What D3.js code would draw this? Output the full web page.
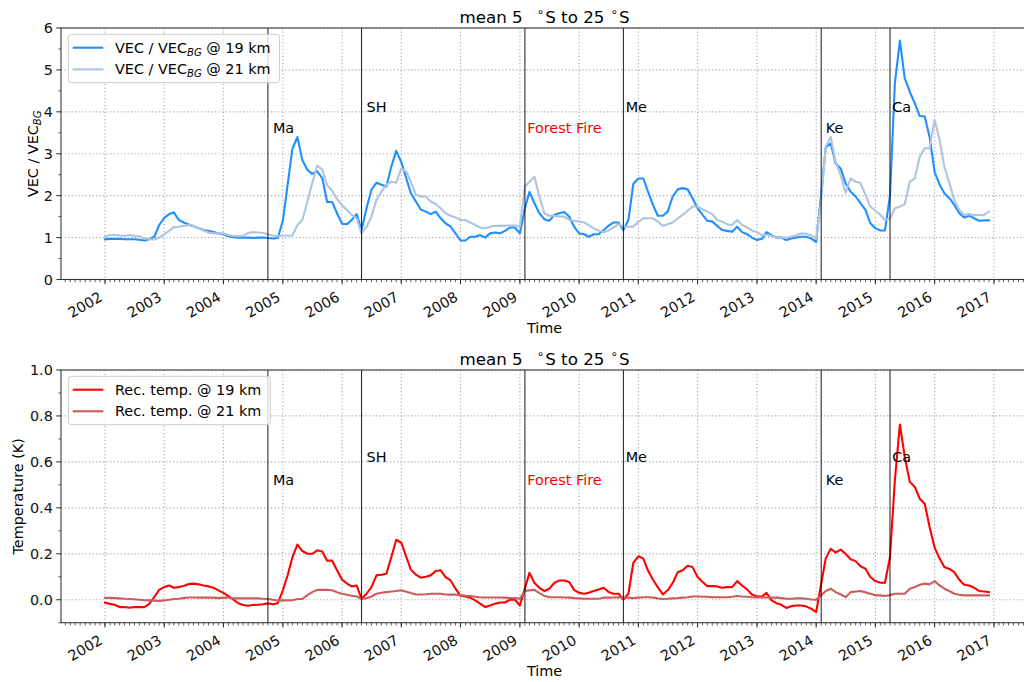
<!DOCTYPE html>
<html>
<head>
<meta charset="utf-8">
<script src="https://cdn.jsdelivr.net/npm/d3@7"></script>
<style>
  body { margin: 0; background: #fff; }
  svg { display: block; }
  text { font-family: "DejaVu Sans", sans-serif; }
</style>
</head>
<body>
<svg id="chart" width="1024" height="682"></svg>
<script>
// Monthly means, Jan 2002 .. Dec 2016 (180 months)
const firstMonth = "2002-01-01";
const lastMonthExclusive = "2017-01-01";

// VEC / VEC_BG at 19 km
const vec19 = [
  0.96, 0.97, 0.97, 0.97, 0.96, 0.96, 0.96, 0.95, 0.93, 0.96,
  1.02, 1.30, 1.47, 1.56, 1.60, 1.42, 1.36, 1.31, 1.27, 1.22,
  1.18, 1.16, 1.13, 1.10, 1.08, 1.03, 1.01, 1.00, 1.00, 1.00,
  0.99, 1.00, 1.00, 0.99, 0.98, 0.99, 1.40, 2.30, 3.12, 3.40,
  2.85, 2.62, 2.52, 2.58, 2.42, 1.85, 1.85, 1.58, 1.33, 1.32,
  1.42, 1.56, 1.18, 1.70, 2.14, 2.31, 2.26, 2.22, 2.70, 3.07,
  2.80, 2.41, 2.06, 1.86, 1.67, 1.62, 1.56, 1.62, 1.46, 1.34,
  1.26, 1.10, 0.93, 0.93, 1.02, 1.02, 1.06, 1.00, 1.10, 1.12,
  1.10, 1.16, 1.24, 1.24, 1.10, 1.70, 2.09, 1.82, 1.58, 1.44,
  1.40, 1.54, 1.58, 1.61, 1.50, 1.26, 1.10, 1.08, 1.02, 1.08,
  1.08, 1.18, 1.28, 1.36, 1.36, 1.18, 1.42, 2.28, 2.41, 2.41,
  2.10, 1.78, 1.52, 1.52, 1.62, 1.98, 2.15, 2.18, 2.15, 1.94,
  1.70, 1.54, 1.40, 1.38, 1.28, 1.18, 1.16, 1.14, 1.26, 1.13,
  1.08, 1.00, 0.94, 0.97, 1.13, 1.06, 1.00, 1.00, 0.94, 0.98,
  1.00, 1.02, 1.02, 0.98, 0.89, 2.06, 3.15, 3.25, 2.77, 2.65,
  2.30, 2.10, 1.98, 1.82, 1.66, 1.34, 1.22, 1.17, 1.17, 2.00,
  4.68, 5.70, 4.80, 4.48, 4.20, 3.90, 3.89, 3.40, 2.57, 2.26,
  2.06, 1.94, 1.78, 1.58, 1.48, 1.52, 1.46, 1.40, 1.41, 1.41
];

// VEC / VEC_BG at 21 km
const vec21 = [
  1.02, 1.06, 1.06, 1.05, 1.04, 1.06, 1.04, 1.03, 0.98, 0.97,
  0.95, 1.00, 1.08, 1.16, 1.25, 1.26, 1.28, 1.30, 1.28, 1.22,
  1.17, 1.12, 1.10, 1.10, 1.10, 1.06, 1.04, 1.03, 1.04, 1.11,
  1.13, 1.12, 1.11, 1.08, 1.05, 1.03, 1.05, 1.05, 1.05, 1.30,
  1.42, 1.85, 2.30, 2.72, 2.62, 2.25, 2.12, 1.92, 1.77, 1.65,
  1.54, 1.46, 1.10, 1.26, 1.50, 1.90, 2.10, 2.26, 2.33, 2.31,
  2.65, 2.57, 2.33, 2.02, 1.98, 1.98, 1.86, 1.80, 1.70, 1.58,
  1.52, 1.48, 1.42, 1.42, 1.36, 1.30, 1.24, 1.22, 1.26, 1.28,
  1.28, 1.28, 1.29, 1.29, 1.26, 2.22, 2.33, 2.45, 1.98, 1.58,
  1.52, 1.52, 1.50, 1.50, 1.42, 1.40, 1.38, 1.36, 1.30, 1.22,
  1.17, 1.13, 1.17, 1.24, 1.32, 1.26, 1.26, 1.26, 1.38, 1.46,
  1.46, 1.46, 1.38, 1.28, 1.32, 1.36, 1.46, 1.54, 1.64, 1.74,
  1.74, 1.67, 1.62, 1.56, 1.42, 1.38, 1.32, 1.30, 1.42, 1.30,
  1.24, 1.17, 1.13, 1.06, 1.06, 1.04, 1.00, 1.00, 1.00, 1.02,
  1.06, 1.10, 1.09, 1.05, 0.98, 1.90, 3.17, 3.40, 2.81, 2.49,
  2.07, 2.41, 2.33, 2.30, 2.02, 1.74, 1.64, 1.54, 1.42, 1.46,
  1.70, 1.74, 1.80, 2.33, 2.41, 2.93, 3.13, 3.13, 3.81, 3.33,
  2.69, 2.30, 1.90, 1.66, 1.54, 1.56, 1.54, 1.54, 1.54, 1.62
];

// Reconstructed temperature (K) at 19 km
const temp19 = [
  -0.013, -0.018, -0.022, -0.032, -0.032, -0.035, -0.032, -0.032, -0.032, -0.018,
  0.012, 0.043, 0.055, 0.062, 0.052, 0.055, 0.060, 0.068, 0.070, 0.067,
  0.062, 0.058, 0.052, 0.041, 0.030, 0.016, 0.001, -0.015, -0.023, -0.026,
  -0.023, -0.022, -0.020, -0.016, -0.020, -0.015, 0.040, 0.110, 0.185, 0.240,
  0.212, 0.200, 0.200, 0.215, 0.210, 0.170, 0.170, 0.128, 0.087, 0.070,
  0.058, 0.062, 0.004, 0.026, 0.055, 0.106, 0.109, 0.113, 0.186, 0.261,
  0.248, 0.186, 0.131, 0.109, 0.096, 0.100, 0.106, 0.125, 0.128, 0.098,
  0.084, 0.048, 0.017, 0.014, 0.009, -0.003, -0.017, -0.032, -0.025, -0.017,
  -0.012, -0.012, 0.000, 0.000, -0.025, 0.050, 0.117, 0.073, 0.052, 0.038,
  0.048, 0.073, 0.084, 0.084, 0.077, 0.043, 0.030, 0.026, 0.030, 0.038,
  0.045, 0.052, 0.034, 0.026, 0.026, 0.001, 0.026, 0.160, 0.189, 0.179,
  0.128, 0.087, 0.055, 0.023, 0.041, 0.073, 0.120, 0.128, 0.148, 0.142,
  0.099, 0.077, 0.059, 0.059, 0.058, 0.052, 0.055, 0.055, 0.081, 0.062,
  0.045, 0.023, 0.014, 0.014, 0.030, -0.003, -0.015, -0.022, -0.036, -0.028,
  -0.025, -0.025, -0.029, -0.039, -0.054, 0.070, 0.180, 0.222, 0.205, 0.218,
  0.200, 0.176, 0.168, 0.146, 0.135, 0.099, 0.081, 0.074, 0.074, 0.186,
  0.520, 0.763, 0.622, 0.513, 0.491, 0.440, 0.418, 0.317, 0.227, 0.179,
  0.142, 0.134, 0.120, 0.087, 0.065, 0.062, 0.052, 0.038, 0.036, 0.033
];

// Reconstructed temperature (K) at 21 km
const temp21 = [
  0.008, 0.008, 0.007, 0.006, 0.004, 0.003, 0.002, 0.000, -0.002, -0.003,
  -0.004, -0.005, -0.003, 0.000, 0.003, 0.004, 0.007, 0.010, 0.010, 0.009,
  0.009, 0.010, 0.009, 0.007, 0.009, 0.009, 0.006, 0.006, 0.006, 0.006,
  0.006, 0.006, 0.004, 0.003, 0.000, -0.003, -0.003, -0.003, -0.002, 0.003,
  0.003, 0.020, 0.033, 0.043, 0.043, 0.043, 0.041, 0.033, 0.026, 0.022,
  0.017, 0.014, 0.004, 0.006, 0.014, 0.026, 0.030, 0.033, 0.036, 0.038,
  0.041, 0.035, 0.029, 0.023, 0.023, 0.024, 0.026, 0.026, 0.026, 0.023,
  0.022, 0.022, 0.020, 0.017, 0.016, 0.013, 0.011, 0.010, 0.010, 0.010,
  0.010, 0.009, 0.007, 0.007, 0.004, 0.038, 0.041, 0.043, 0.029, 0.017,
  0.011, 0.011, 0.011, 0.010, 0.009, 0.007, 0.006, 0.004, 0.004, 0.004,
  0.004, 0.009, 0.009, 0.010, 0.011, 0.009, 0.009, 0.007, 0.009, 0.011,
  0.011, 0.010, 0.006, 0.003, 0.004, 0.006, 0.007, 0.009, 0.011, 0.014,
  0.014, 0.013, 0.013, 0.011, 0.011, 0.011, 0.011, 0.013, 0.016, 0.014,
  0.013, 0.011, 0.010, 0.010, 0.010, 0.009, 0.009, 0.007, 0.004, 0.004,
  0.006, 0.006, 0.004, 0.001, 0.000, 0.019, 0.038, 0.048, 0.033, 0.023,
  0.011, 0.033, 0.036, 0.038, 0.032, 0.026, 0.019, 0.019, 0.016, 0.020,
  0.026, 0.026, 0.026, 0.048, 0.055, 0.065, 0.070, 0.067, 0.081, 0.062,
  0.048, 0.038, 0.026, 0.022, 0.019, 0.019, 0.019, 0.019, 0.019, 0.019
];

// Volcanic eruptions and fire events
const eventNames = ["Ma", "SH", "Forest Fire", "Me", "Ke", "Ca"];
const eventDates = ["2004-10-01", "2006-05-01", "2009-02-01", "2010-10-01", "2014-02-01", "2015-04-01"];
const eventLabelDates = ["2004-11-01", "2006-06-01", "2009-02-15", "2010-10-15", "2014-03-01", "2015-04-15"];
const eventLabelVec = [3.5, 4.0, 3.5, 4.0, 3.5, 4.0];
const eventLabelTemp = [0.5, 0.6, 0.5, 0.6, 0.5, 0.6];
const eventIsFire = [false, false, true, false, false, false];

const vecTicks = [0, 1, 2, 3, 4, 5, 6];
const tempTicks = [0.0, 0.2, 0.4, 0.6, 0.8, 1.0];

const parse = d3.utcParse("%Y-%m-%d");
const months = d3.utcMonth.range(parse(firstMonth), parse(lastMonthExclusive));

const svg = d3.select("#chart");
const FONT = 14.4;
const left = 61, right = 1028;

// Year positions: 2002 -> 105 px, 2017 -> 994 px
const xRef = d3.scaleUtc().domain([parse("2002-01-01"), parse("2017-01-01")]).range([105, 994]);
const x = d3.scaleUtc().domain([xRef.invert(left), xRef.invert(right)]).range([left, right]);

const gridStyle = sel => sel.attr("stroke", "#b0b0b0").attr("stroke-width", 1.2)
  .attr("stroke-dasharray", "1.3,2.2").attr("fill", "none");

function drawPanel(cfg) {
  const { top, bottom } = cfg;
  const y = d3.scaleLinear().domain(cfg.yDomain).range([bottom, top]);
  const g = svg.append("g");
  const clipId = "clip" + cfg.id;
  svg.append("clipPath").attr("id", clipId)
    .append("rect").attr("x", left).attr("y", top).attr("width", right - left).attr("height", bottom - top);

  const years = x.ticks(d3.utcYear.every(1));
  const minorMonths = d3.utcMonth.range(x.domain()[0], x.domain()[1]);

  // grid
  g.append("g").selectAll("line").data(years).join("line")
    .attr("x1", d => x(d)).attr("x2", d => x(d)).attr("y1", top).attr("y2", bottom)
    .call(gridStyle);
  g.append("g").selectAll("line").data(cfg.yTicks).join("line")
    .attr("x1", left).attr("x2", right).attr("y1", d => y(d)).attr("y2", d => y(d))
    .call(gridStyle);

  // data lines
  const line = d3.line().x((d, i) => x(months[i])).y(d => y(d));
  const plot = g.append("g").attr("clip-path", `url(#${clipId})`);
  cfg.series.forEach(s => {
    plot.append("path").datum(s.values).attr("d", line)
      .attr("fill", "none").attr("stroke", s.color).attr("stroke-width", 2.1)
      .attr("stroke-linejoin", "round").attr("stroke-linecap", "square");
  });

  // event markers
  plot.selectAll("line.ev").data(eventDates).join("line").attr("class", "ev")
    .attr("x1", d => x(parse(d))).attr("x2", d => x(parse(d)))
    .attr("y1", top).attr("y2", bottom)
    .attr("stroke", "#000").attr("stroke-width", 1.07).attr("stroke-opacity", 0.85);

  // spines
  g.append("rect").attr("x", left).attr("y", top).attr("width", right - left).attr("height", bottom - top)
    .attr("fill", "none").attr("stroke", "#333").attr("stroke-width", 1.07);

  // x ticks (major years, minor months)
  g.append("g").selectAll("line").data(minorMonths).join("line")
    .attr("x1", d => x(d)).attr("x2", d => x(d)).attr("y1", bottom).attr("y2", bottom + 2.7)
    .attr("stroke", "#333").attr("stroke-width", 0.8);
  g.append("g").selectAll("line").data(years).join("line")
    .attr("x1", d => x(d)).attr("x2", d => x(d)).attr("y1", bottom).attr("y2", bottom + 4.7)
    .attr("stroke", "#333").attr("stroke-width", 1.07);
  g.append("g").selectAll("text").data(years).join("text")
    .attr("transform", d => `translate(${x(d) - 1.5},${bottom + 20.5}) rotate(-30)`)
    .attr("text-anchor", "end").attr("font-size", FONT).attr("fill", "#111")
    .text(d => d3.utcFormat("%Y")(d));

  // y ticks
  g.append("g").selectAll("line").data(cfg.yMinor).join("line")
    .attr("x1", left - 2.7).attr("x2", left).attr("y1", d => y(d)).attr("y2", d => y(d))
    .attr("stroke", "#333").attr("stroke-width", 0.8);
  g.append("g").selectAll("line").data(cfg.yTicks).join("line")
    .attr("x1", left - 4.7).attr("x2", left).attr("y1", d => y(d)).attr("y2", d => y(d))
    .attr("stroke", "#333").attr("stroke-width", 1.07);
  g.append("g").selectAll("text").data(cfg.yTicks).join("text")
    .attr("x", left - 8.2).attr("y", d => y(d)).attr("dy", "0.36em")
    .attr("text-anchor", "end").attr("font-size", FONT).attr("fill", "#111")
    .text(cfg.fmt);

  // event labels
  g.append("g").selectAll("text").data(eventNames).join("text")
    .attr("x", (d, i) => x(parse(eventLabelDates[i])))
    .attr("y", (d, i) => y(cfg.labelValues[i]))
    .attr("font-size", FONT)
    .attr("fill", (d, i) => eventIsFire[i] ? "#ff0000" : "#000")
    .text(d => d);

  // axis labels and title
  g.append("text").attr("x", (left + right) / 2).attr("y", bottom + 53.5)
    .attr("text-anchor", "middle").attr("font-size", FONT).text("Time");
  cfg.ylabel(g.append("text")
    .attr("transform", `translate(${cfg.ylabelX},${(top + bottom) / 2}) rotate(-90)`)
    .attr("text-anchor", "middle").attr("font-size", FONT));

  const title = g.append("text").attr("x", (left + right) / 2).attr("y", top - 5.5)
    .attr("text-anchor", "middle").attr("font-size", 16.7);
  title.append("tspan").text("mean 5");
  title.append("tspan").attr("dx", 14).attr("dy", -6.5).attr("font-size", 12).text("∘");
  title.append("tspan").attr("dx", 1).attr("dy", 6.5).text("S to 25");
  title.append("tspan").attr("dx", 6).attr("dy", -6.5).attr("font-size", 12).text("∘");
  title.append("tspan").attr("dx", 1).attr("dy", 6.5).text("S");

  // legend
  const lg = g.append("g");
  const box = lg.append("rect").attr("x", 68.3).attr("y", top + 6.3).attr("height", 48.4)
    .attr("rx", 3).attr("fill", "#fff").attr("fill-opacity", 0.8)
    .attr("stroke", "#cccccc").attr("stroke-width", 1);
  let maxEnd = 0;
  cfg.series.forEach((s, i) => {
    const ly = top + 19.7 + i * 21.6;
    lg.append("line").attr("x1", 72.7).attr("x2", 103.3).attr("y1", ly).attr("y2", ly)
      .attr("stroke", s.color).attr("stroke-width", 2.1);
    const t = lg.append("text").attr("x", 115).attr("y", ly + 5.1).attr("font-size", FONT);
    s.label(t);
    maxEnd = Math.max(maxEnd, 115 + t.node().getComputedTextLength());
  });
  box.attr("width", maxEnd + 9 - 68.3);
}

function vecText(sel, suffix) {
  sel.append("tspan").text("VEC / VEC");
  sel.append("tspan").attr("font-style", "italic").attr("font-size", 10.1).attr("dy", 3).text("BG");
  if (suffix) sel.append("tspan").attr("dy", -3).text(suffix);
}

drawPanel({
  id: "vec", top: 28, bottom: 279.5, yDomain: [0, 6],
  yTicks: vecTicks, yMinor: d3.range(0.5, 6, 1), fmt: d => d3.format("d")(d),
  labelValues: eventLabelVec, ylabelX: 37.5,
  ylabel: t => vecText(t, null),
  series: [
    { values: vec19, color: "#1e90ff", label: t => vecText(t, " @ 19 km") },
    { values: vec21, color: "#b0c4de", label: t => vecText(t, " @ 21 km") }
  ]
});

drawPanel({
  id: "temp", top: 370, bottom: 622.7, yDomain: [-0.1, 1.0],
  yTicks: tempTicks, yMinor: [-0.1, 0.1, 0.3, 0.5, 0.7, 0.9], fmt: d => d3.format(".1f")(d),
  labelValues: eventLabelTemp, ylabelX: 22.5,
  ylabel: t => t.text("Temperature (K)"),
  series: [
    { values: temp19, color: "#ff0000", label: t => t.text("Rec. temp. @ 19 km") },
    { values: temp21, color: "#cd5c5c", label: t => t.text("Rec. temp. @ 21 km") }
  ]
});
</script>
</body>
</html>
